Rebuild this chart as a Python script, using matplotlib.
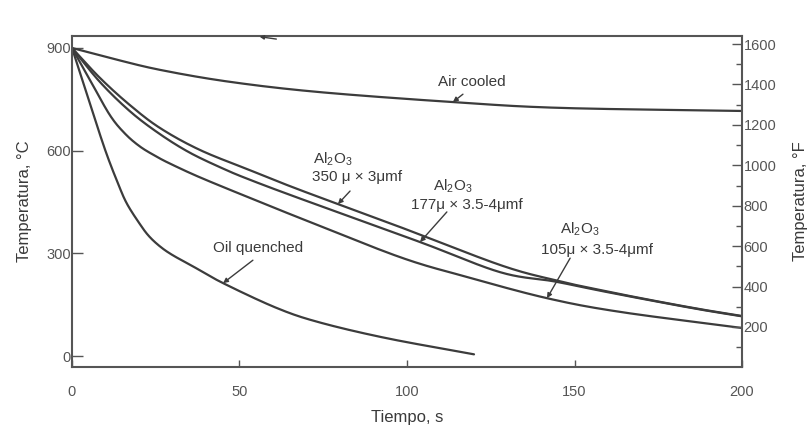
import numpy as np
import matplotlib
matplotlib.use("Agg")
import matplotlib.pyplot as plt
from matplotlib.ticker import MultipleLocator

plt.rcParams['font.family'] = ['Liberation Sans', 'DejaVu Sans']
plt.rcParams['mathtext.fontset'] = 'custom'
plt.rcParams['mathtext.rm'] = 'Liberation Sans'
plt.rcParams['mathtext.it'] = 'Liberation Sans'

# ---------------- data ----------------
time_air = [0, 11.3, 26.3, 47.2, 74, 113.7, 145.7, 200]
temp_air = [900, 871, 836, 801, 771, 742, 725, 716]

time_oil = [0, 5, 9.9, 13.7, 16.4, 20.3, 23, 26.3, 30, 36.1, 45.1, 61.2, 74, 94, 120]
temp_oil = [900, 748, 602, 505, 445, 385, 350, 320, 295, 262, 213, 140, 98, 52, 5]

time_350 = [0, 8.4, 17.3, 26.3, 38.2, 53.1, 68.1, 97.9, 127.8, 144, 157.6, 172.5, 187.5, 200]
temp_350 = [900, 812, 733, 666, 602, 543, 485, 377, 266, 222, 193, 164, 137, 117]

time_177 = [0, 8.4, 17.3, 26, 35, 45, 53.1, 68.1, 103.9, 127.8, 144, 157.6, 172.5, 187.5, 200]
temp_177 = [900, 800, 715, 650, 595, 548, 515, 460, 333, 245, 218, 191, 163, 136, 116]

time_105 = [0, 5.4, 11.3, 15.8, 20.3, 25, 29.3, 38.2, 53.1, 68.1, 97.9, 117.9, 141.8, 163.6, 200]
temp_105 = [900, 806, 704, 650, 612, 584, 562, 522, 462, 403, 289, 231, 169, 129, 82]

celsius_ticks = [0, 300, 600, 900]
time_ticks = [0, 50, 100, 150, 200]
fahrenheit_ticks = [200, 400, 600, 800, 1000, 1200, 1400, 1600]

LINE = '#3c3c3c'
TXT = '#3a3a3a'
TICKC = '#555555'


def smooth(x, y, n=30):
    """Catmull-Rom smoothing for drawing only."""
    x = np.asarray(x, float)
    y = np.asarray(y, float)
    P = np.column_stack([x, y])
    P = np.vstack([2 * P[0] - P[1], P, 2 * P[-1] - P[-2]])
    out = []
    for i in range(1, len(P) - 2):
        p0, p1, p2, p3 = P[i - 1], P[i], P[i + 1], P[i + 2]
        t = np.linspace(0, 1, n, endpoint=False)[:, None]
        pts = 0.5 * ((2 * p1) + (-p0 + p2) * t + (2 * p0 - 5 * p1 + 4 * p2 - p3) * t ** 2
                     + (-p0 + 3 * p1 - 3 * p2 + p3) * t ** 3)
        out.append(pts)
    out.append(P[-2][None, :])
    out = np.vstack(out)
    return out[:, 0], out[:, 1]


fig = plt.figure(figsize=(8.11, 4.30), dpi=100)
ax = fig.add_axes([72 / 811, 1 - 367 / 430, (742 - 72) / 811, (367 - 36) / 430])

for tx, ty in [(time_air, temp_air), (time_oil, temp_oil), (time_350, temp_350),
               (time_177, temp_177), (time_105, temp_105)]:
    sx, sy = smooth(tx, ty)
    ax.plot(sx, sy, color=LINE, lw=1.6, solid_capstyle='round')

ax.set_xlim(0, 200)
ax.set_ylim(-32, 935)
ax.set_xticks(time_ticks)
ax.set_yticks(celsius_ticks)
ax.tick_params(axis='x', direction='in', length=5, width=1.0, colors=TICKC,
               labelcolor=TICKC, labelsize=10.5, pad=13)
ax.tick_params(axis='y', direction='in', length=8, width=1.0, colors=TICKC,
               labelcolor=TICKC, labelsize=10.5, pad=1)
for s in ax.spines.values():
    s.set_color(TICKC)
    s.set_linewidth(1.5)

ax.set_xlabel('Tiempo, s', fontsize=12, color=TXT, labelpad=8)
ax.set_ylabel('Temperatura, °C', fontsize=12, color=TXT, labelpad=10)

# right axis in Fahrenheit
ax2 = ax.twinx()
ax2.set_ylim(2, 1640)
ax2.set_yticks(fahrenheit_ticks)
ax2.yaxis.set_minor_locator(MultipleLocator(100))
ax2.tick_params(axis='y', which='major', direction='in', length=7, width=1.0,
                colors=TICKC, labelcolor=TICKC, labelsize=10.5, pad=1)
ax2.tick_params(axis='y', which='minor', direction='in', length=4, width=1.0, colors=TICKC)
for s in ax2.spines.values():
    s.set_visible(False)
ax2.set_ylabel('Temperatura, °F', fontsize=12, color=TXT, labelpad=12)

# annotations
arrow = dict(arrowstyle='-|>', color=LINE, lw=1.0, mutation_scale=7, shrinkA=0, shrinkB=0)
FS = 11


def leader(t_head, series_t, series_T, dt, dT):
    yh = float(np.interp(t_head, series_t, series_T))
    ax.annotate('', xy=(t_head, yh), xytext=(t_head + dt, yh + dT), arrowprops=arrow)


leader(113.7, time_air, temp_air, 3.0, 23)
ax.text(119.4, 800, 'Air cooled', fontsize=FS, color=TXT, ha='center', va='center')

leader(79.4, time_350, temp_350, 3.6, 38)
ax.text(77.9, 575, 'Al$_2$O$_3$', fontsize=FS, color=TXT, ha='center', va='center')
ax.text(85.1, 523, '350 μ × 3μmf', fontsize=FS, color=TXT, ha='center', va='center')

leader(103.9, time_177, temp_177, 8.0, 88)
ax.text(113.7, 496, 'Al$_2$O$_3$', fontsize=FS, color=TXT, ha='center', va='center')
ax.text(117.9, 441, '177μ × 3.5-4μmf', fontsize=FS, color=TXT, ha='center', va='center')

leader(141.8, time_105, temp_105, 6.9, 117)
ax.text(151.6, 370, 'Al$_2$O$_3$', fontsize=FS, color=TXT, ha='center', va='center')
ax.text(156.7, 310, '105μ × 3.5-4μmf', fontsize=FS, color=TXT, ha='center', va='center')

leader(45.1, time_oil, temp_oil, 8.9, 67)
ax.text(55.5, 316, 'Oil quenched', fontsize=FS, color=TXT, ha='center', va='center')

# small leader mark on the top border
ax.annotate('', xy=(56, 933), xytext=(61, 926),
            arrowprops=dict(arrowstyle='-|>', color=LINE, lw=1.0, mutation_scale=6,
                            shrinkA=0, shrinkB=0), annotation_clip=False)

fig.savefig('out.png', dpi=100, facecolor='white')
